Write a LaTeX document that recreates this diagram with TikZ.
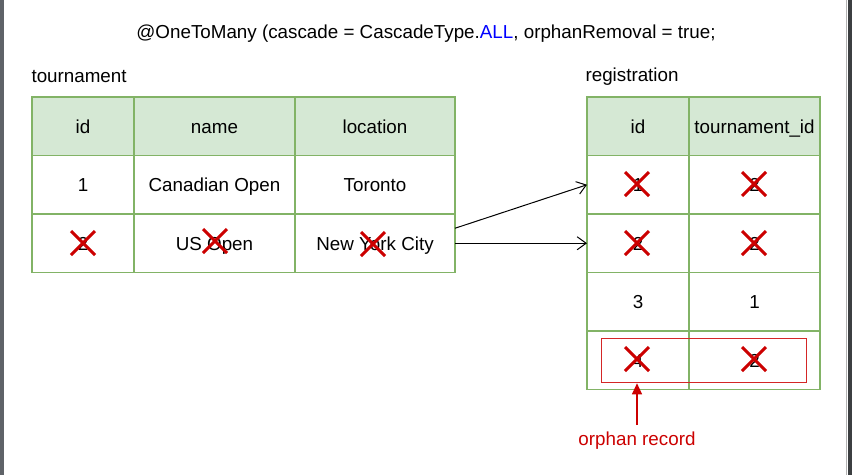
\documentclass[tikz,border=0pt]{standalone}
\usepackage{fontspec}
\setmainfont{Liberation Sans}
\usetikzlibrary{positioning,arrows.meta,shapes.misc}
\definecolor{cellgreen}{HTML}{82B366}
\definecolor{headfill}{HTML}{D5E8D4}
\definecolor{xred}{HTML}{CC0000}
\definecolor{allblue}{HTML}{0000FF}
\definecolor{framegray}{HTML}{5F6368}
\definecolor{framedark}{HTML}{3C3F41}

\begin{document}
\begin{tikzpicture}[x=1pt, y=1pt,
      every node/.style={font=\fontsize{18.8}{22}\selectfont, text=black},
      cell/.style={draw=cellgreen, line width=1.3pt, anchor=north west,
        minimum height=58.5pt, inner sep=0pt, outer sep=0pt,
        text height=13.5pt, text depth=0pt},
      head/.style={cell, fill=headfill},
      gone/.style={cross out, draw=xred, line width=3pt,
        minimum size=21pt, inner sep=0pt},
      link/.style={-{Straight Barb[length=9pt, width=13pt]}, line width=1pt}
    ]
      % page and window edges
      \useasboundingbox (0,0) rectangle (852,-475);
      \fill[white] (0,0) rectangle (852,-475);
      \fill[framegray] (0,0) rectangle (3.5,-475);
      \fill[framedark] (848,0) rectangle (852,-475);
      \draw[gray!60] (846.5,0) -- (846.5,-475);

      \node (title) at (426,-34) {@OneToMany (cascade = CascadeType.{\color{allblue}ALL}, orphanRemoval = true;};

      % tournament table
      \node[anchor=west] (tlabel) at (28,-77) {tournament};
      \node[head, minimum width=102pt] (tid) at (32,-97) {id};
      \node[head, minimum width=161pt] (tname) at (134,-97) {name};
      \node[head, minimum width=160pt] (tloc) at (295,-97) {location};
      \node[cell, minimum width=102pt] (tid1) at (32,-155.5) {1};
      \node[cell, minimum width=161pt] (tname1) at (134,-155.5) {Canadian Open};
      \node[cell, minimum width=160pt] (tloc1) at (295,-155.5) {Toronto};
      \node[cell, minimum width=102pt] (tid2) at (32,-214) {2};
      \node[cell, minimum width=161pt] (tname2) at (134,-214) {US Open};
      \node[cell, minimum width=160pt] (tloc2) at (295,-214) {New York City};

      % registration table
      \node[anchor=west] (rlabel) at (582,-77) {registration};
      \node[head, minimum width=102pt] (rid) at (587,-97) {id};
      \node[head, minimum width=131pt] (rtid) at (689,-97) {tournament\_id};
      \node[cell, minimum width=102pt] (rid1) at (587,-155.5) {1};
      \node[cell, minimum width=131pt] (rtid1) at (689,-155.5) {2};
      \node[cell, minimum width=102pt] (rid2) at (587,-214) {2};
      \node[cell, minimum width=131pt] (rtid2) at (689,-214) {2};
      \node[cell, minimum width=102pt] (rid3) at (587,-272.5) {3};
      \node[cell, minimum width=131pt] (rtid3) at (689,-272.5) {1};
      \node[cell, minimum width=102pt] (rid4) at (587,-331) {4};
      \node[cell, minimum width=131pt] (rtid4) at (689,-331) {2};

      % deleted values
      \node[gone] (xt1) at (83,-243) {};
      \node[gone] (xt2) at (215,-241) {};
      \node[gone] (xt3) at (373,-244) {};
      \node[gone] (xr1) at (637,-184) {};
      \node[gone] (xr2) at (754,-184) {};
      \node[gone] (xr3) at (637,-243) {};
      \node[gone] (xr4) at (754,-243) {};
      \node[gone] (xr5) at (637,-359) {};
      \node[gone] (xr6) at (754,-359) {};

      % orphan
      \node[draw=xred!85, line width=1.3pt, anchor=north west, minimum width=205pt,
        minimum height=44pt, inner sep=0pt] (orphan) at (601,-338) {};
      \node[text=xred] (olabel) at (637,-441) {orphan record};
      \coordinate (otail) at (637,-425);
      \draw[xred, line width=1.2pt, -{Triangle[length=11pt, width=10pt]}]
        (otail) -- (otail |- orphan.south);

      % cascade links
      \draw[link] ([yshift=15pt]tloc2.east) -- (rid1.west);
      \draw[link] (tloc2.east) -- (rid2.west);
    \end{tikzpicture}
\end{document}
